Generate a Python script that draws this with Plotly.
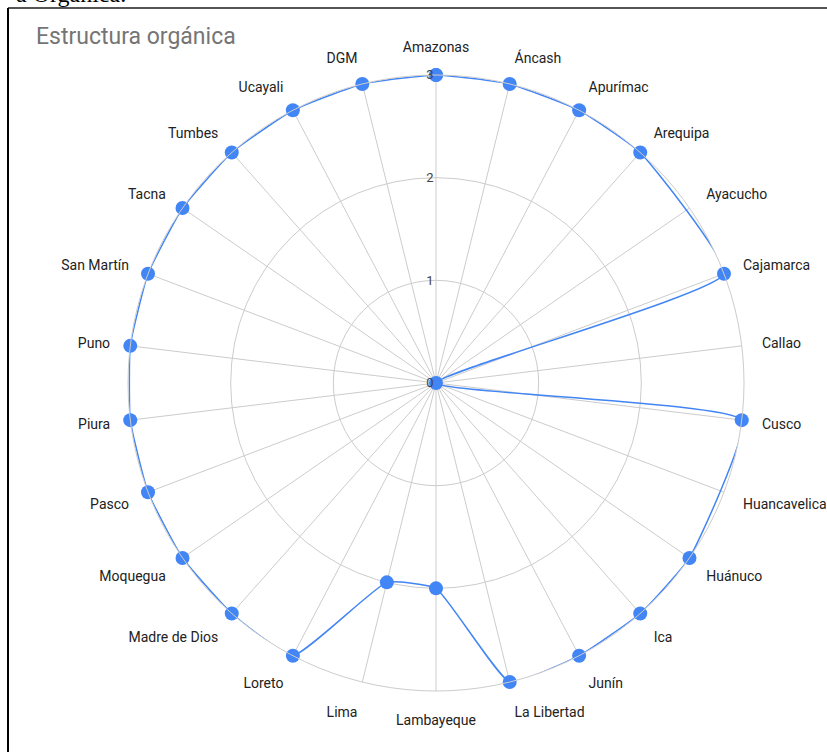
import plotly.graph_objects as go

W, H = 827, 752

REGIONS = [
    "Amazonas", "Áncash", "Apurímac", "Arequipa", "Ayacucho", "Cajamarca",
    "Callao", "Cusco", "Huancavelica", "Huánuco", "Ica", "Junín",
    "La Libertad", "Lambayeque", "Lima", "Loreto", "Madre de Dios",
    "Moquegua", "Pasco", "Piura", "Puno", "San Martín", "Tacna", "Tumbes",
    "Ucayali", "DGM",
]
SCORES = [
    3, 3, 3, 3, None, 3,
    0, 3, None, 3, 3, 3,
    3, 2, 2, 3, 3,
    3, 3, 3, 3, 3, 3, 3,
    3, 3,
]
RADIAL_TICKS = [0, 1, 2, 3]

BLUE = "#4285F4"
GRID = "#cccccc"

# polar circle: centre (436, 383) px, radius 308 px, margins are zero
cx, cy, rad = 436, 383, 308
dom_x = [(cx - rad) / W, (cx + rad) / W]
dom_y = [1 - (cy + rad) / H, 1 - (cy - rad) / H]

fig = go.Figure()
fig.add_trace(go.Scatterpolar(
    r=SCORES + [SCORES[0]],
    theta=REGIONS + [REGIONS[0]],
    mode="lines+markers",
    connectgaps=True,
    line=dict(color=BLUE, width=1.5, shape="spline", smoothing=0.4),
    marker=dict(color=BLUE, size=14),
    showlegend=False,
))

fig.update_layout(
    width=W, height=H,
    margin=dict(l=0, r=0, t=0, b=0),
    paper_bgcolor="white",
    font=dict(family="Roboto, Arial, sans-serif", size=14, color="#222222"),
    polar=dict(
        domain=dict(x=dom_x, y=dom_y),
        bgcolor="white",
        radialaxis=dict(
            range=[0, 3], tickvals=RADIAL_TICKS, angle=90, tickangle=90,
            side="counterclockwise",
            showline=False, ticks="", gridcolor=GRID, gridwidth=1,
            tickfont=dict(size=13, color="#444444"),
        ),
        angularaxis=dict(
            direction="clockwise", rotation=90,
            categoryorder="array", categoryarray=REGIONS,
            showline=True, linecolor=GRID, linewidth=1,
            gridcolor=GRID, gridwidth=1,
            ticks="outside", ticklen=17, tickcolor="rgba(0,0,0,0)",
            tickfont=dict(size=14, color="#222222"),
        ),
    ),
    annotations=[
        dict(text="Estructura orgánica", x=34 / W, y=1 - 37 / H,
             xref="paper", yref="paper", xanchor="left", yanchor="middle",
             showarrow=False, font=dict(size=23, color="#757575")),
        dict(text="a Orgánica.", x=128 / W, y=1 - 9 / H,
             xref="paper", yref="paper", xanchor="right", yanchor="bottom",
             showarrow=False,
             font=dict(family="Liberation Serif, serif", size=24, color="black")),
    ],
    shapes=[
        dict(type="line", xref="paper", yref="paper",
             x0=8 / W, x1=1, y0=1 - 8 / H, y1=1 - 8 / H,
             line=dict(color="#555555", width=2)),
        dict(type="line", xref="paper", yref="paper",
             x0=8 / W, x1=8 / W, y0=1 - 8 / H, y1=0,
             line=dict(color="black", width=2)),
    ],
)

fig.write_html(
    "out.html",
    config={"displayModeBar": False},
    post_script="document.body.style.margin='0px';",
)
